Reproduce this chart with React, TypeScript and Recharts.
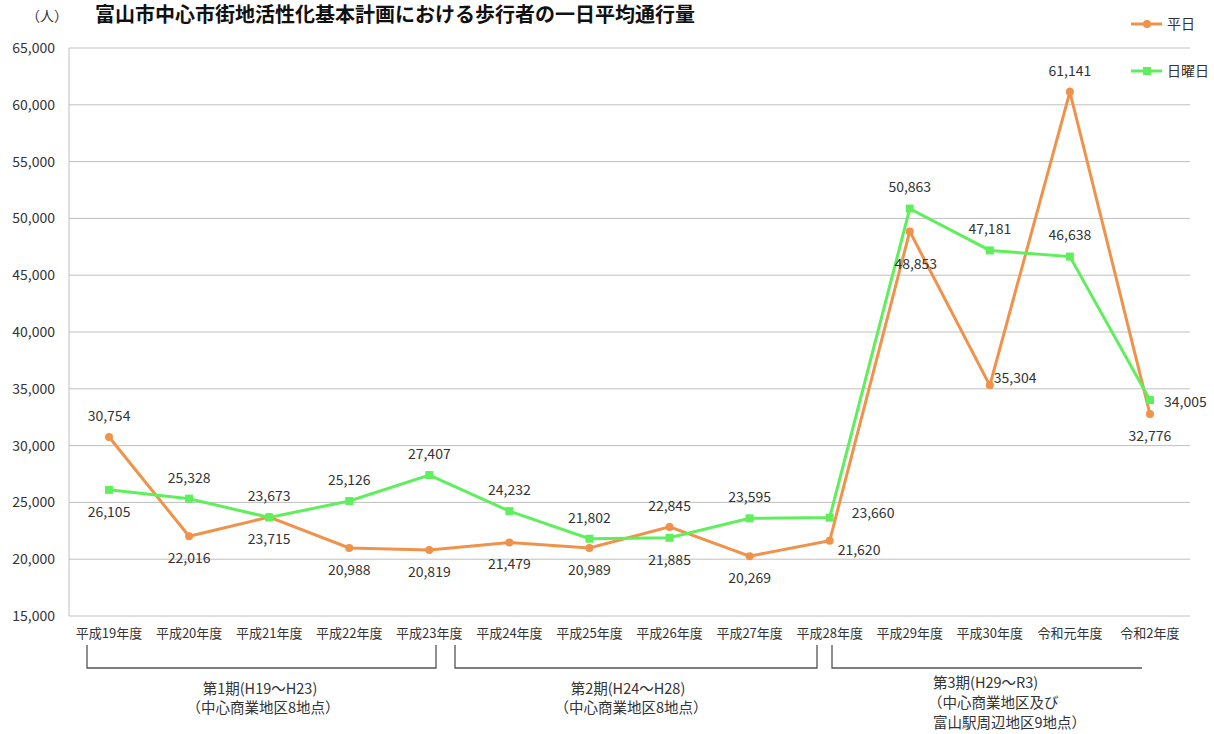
import { CartesianGrid, Legend, Line, LineChart, XAxis, YAxis } from "recharts";

const years = [
  "平成19年度",
  "平成20年度",
  "平成21年度",
  "平成22年度",
  "平成23年度",
  "平成24年度",
  "平成25年度",
  "平成26年度",
  "平成27年度",
  "平成28年度",
  "平成29年度",
  "平成30年度",
  "令和元年度",
  "令和2年度",
];
const weekday = [30754, 22016, 23715, 20988, 20819, 21479, 20989, 22845, 20269, 21620, 48853, 35304, 61141, 32776];
const sunday = [26105, 25328, 23673, 25126, 27407, 24232, 21802, 21885, 23595, 23660, 50863, 47181, 46638, 34005];
const yTicks = [15000, 20000, 25000, 30000, 35000, 40000, 45000, 50000, 55000, 60000, 65000];

// where each value label sits relative to its point
const weekdayLabelPos = ["top", "bottom", "bottom", "bottom", "bottom", "bottom", "bottom", "top", "bottom", "lowerRight", "farBottom", "upperRight", "top", "bottom"];
const sundayLabelPos = ["bottom", "top", "top", "top", "top", "top", "top", "bottom", "top", "farRight", "top", "top", "top", "right"];

const ORANGE = "#F0924A";
const GREEN = "#5FEF5C";
const TEXT = "#333333";
const FONT = "'Noto Sans CJK JP', 'Noto Sans', sans-serif";

const rows = years.map((year, i) => ({ year, weekday: weekday[i], sunday: sunday[i] }));

function makeLabel(positions: string[]) {
  return (props: any) => {
    const { x, y, value, index } = props;
    const pos = positions[index] ?? "top";
    let dx = 0;
    let dy = -21;
    let anchor: "middle" | "start" = "middle";
    if (pos === "bottom") dy = 22;
    if (pos === "farBottom") {
      dy = 33;
      dx = 6;
    }
    if (pos === "right") {
      dx = 14;
      dy = 2;
      anchor = "start";
    }
    if (pos === "farRight") {
      dx = 22;
      dy = -5;
      anchor = "start";
    }
    if (pos === "lowerRight") {
      dx = 8;
      dy = 9;
      anchor = "start";
    }
    if (pos === "upperRight") {
      dx = 4;
      dy = -7;
      anchor = "start";
    }
    return (
      <text
        key={`lbl-${index}`}
        x={x + dx}
        y={y + dy}
        dy="0.35em"
        textAnchor={anchor}
        fontSize={14}
        fill={TEXT}
        fontFamily={FONT}
      >
        {Number(value).toLocaleString("en-US")}
      </text>
    );
  };
}

function LegendBox() {
  const items = [
    { name: "平日", color: ORANGE, shape: "circle" },
    { name: "日曜日", color: GREEN, shape: "square" },
  ];
  return (
    <svg width={90} height={70} style={{ overflow: "visible" }}>
      {items.map((it, i) => {
        const cy = 17 + i * 47;
        return (
          <g key={it.name}>
            <line x1={3} x2={34} y1={cy} y2={cy} stroke={it.color} strokeWidth={3} />
            {it.shape === "circle" ? (
              <circle cx={19} cy={cy} r={4} fill={it.color} />
            ) : (
              <rect x={15} y={cy - 4} width={8} height={8} fill={it.color} />
            )}
            <text x={39} y={cy} dy="0.35em" fontSize={14} fill={TEXT} fontFamily={FONT}>
              {it.name}
            </text>
          </g>
        );
      })}
    </svg>
  );
}

const SquareDot = (props: any) => {
  const { cx, cy, index } = props;
  return <rect key={`sq-${index}`} x={cx - 4} y={cy - 4} width={8} height={8} fill={GREEN} />;
};

export default function App() {
  return (
    <div style={{ position: "absolute", left: 0, top: 0, width: 1214, height: 734, background: "#fff", fontFamily: FONT }}>
      <LineChart width={1214} height={734} data={rows} margin={{ top: 48, right: 24, bottom: 88, left: 0 }}>
        <CartesianGrid stroke="#BFBFBF" vertical={false} />
        <XAxis
          dataKey="year"
          scale="band"
          interval={0}
          height={30}
          axisLine={false}
          tickLine={false}
          tickMargin={7}
          tick={{ fontSize: 13, fill: TEXT, fontFamily: FONT }}
        />
        <YAxis
          width={69}
          domain={[15000, 65000]}
          ticks={yTicks}
          interval={0}
          stroke="#BFBFBF"
          tickLine={false}
          tickMargin={8}
          tick={{ fontSize: 14, fill: TEXT, fontFamily: FONT }}
          tickFormatter={(v) => v.toLocaleString("en-US")}
        />
        <Legend
          layout="horizontal"
          verticalAlign="middle"
          align="center"
          content={() => <LegendBox />}
          wrapperStyle={{ position: "absolute", top: 7, left: 1128, width: 90, height: 70 }}
        />
        <Line
          dataKey="weekday"
          name="平日"
          stroke={ORANGE}
          strokeWidth={3}
          dot={{ r: 4, fill: ORANGE, stroke: ORANGE, strokeWidth: 0 }}
          label={makeLabel(weekdayLabelPos)}
          isAnimationActive={false}
        />
        <Line
          dataKey="sunday"
          name="日曜日"
          stroke={GREEN}
          strokeWidth={3}
          dot={<SquareDot />}
          label={makeLabel(sundayLabelPos)}
          isAnimationActive={false}
        />
      </LineChart>

      {/* title, unit and period brackets drawn over the chart */}
      <svg width={1214} height={734} style={{ position: "absolute", left: 0, top: 0, pointerEvents: "none" }}>
        <text x={95} y={22} fontSize={20} fontWeight="bold" fill="#111" fontFamily={FONT}>
          富山市中心市街地活性化基本計画における歩行者の一日平均通行量
        </text>
        <text x={26} y={16} dy="0.35em" fontSize={14} fill={TEXT} fontFamily={FONT}>
          （人）
        </text>
        <g stroke="#555" strokeWidth={1.3} fill="none">
          <polyline points="87,645 87,668 436,668 436,645" />
          <polyline points="455,645 455,668 817,668 817,645" />
          <polyline points="832,645 832,668 1142,668" />
        </g>
        <g fontSize={14.5} fill={TEXT} fontFamily={FONT}>
          <text x={260} y={689} dy="0.35em" textAnchor="middle">第1期(H19～H23)</text>
          <text x={263} y={708} dy="0.35em" textAnchor="middle">（中心商業地区8地点）</text>
          <text x={628} y={689} dy="0.35em" textAnchor="middle">第2期(H24～H28)</text>
          <text x={631} y={708} dy="0.35em" textAnchor="middle">（中心商業地区8地点）</text>
          <text x={933} y={683} dy="0.35em">第3期(H29～R3)</text>
          <text x={928} y={703} dy="0.35em">（中心商業地区及び</text>
          <text x={933} y={723} dy="0.35em">富山駅周辺地区9地点）</text>
        </g>
      </svg>
    </div>
  );
}
